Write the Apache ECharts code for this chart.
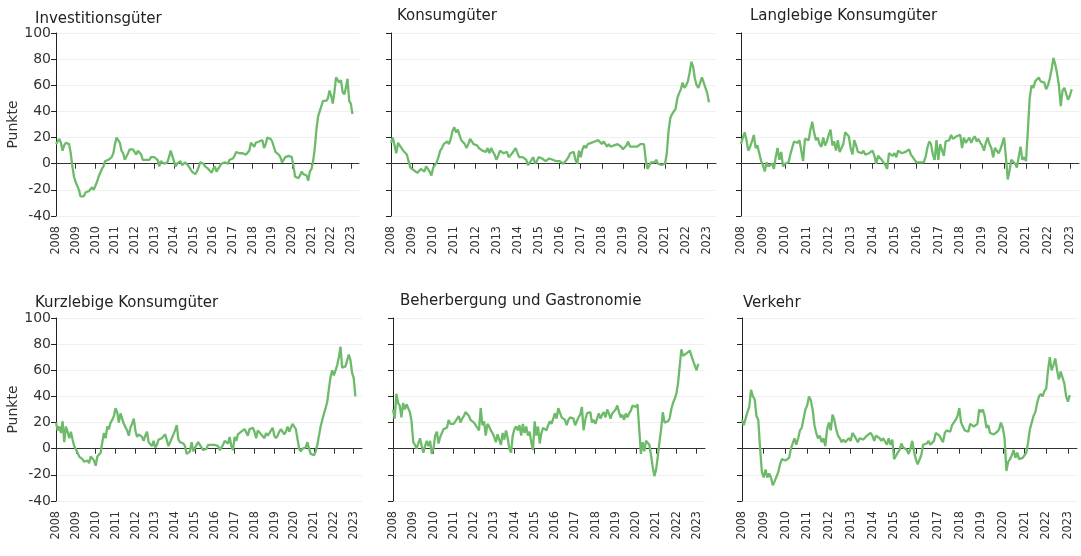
<!DOCTYPE html>
<html>
<head>
<meta charset="utf-8">
<script src="https://cdn.jsdelivr.net/npm/echarts@6/dist/echarts.min.js"></script>
<style>html,body{margin:0;padding:0;background:#fff}#c{width:1081px;height:556px}</style>
</head>
<body>
<div id="c"></div>
<script>
// Monthly categories Jan 2008 .. Jun 2023 (data ends Feb 2023)
var months = [];
for (var y = 2008; y <= 2023; y++) {
  for (var m = 1; m <= 12; m++) {
    if (y === 2023 && m > 6) break;
    months.push(y + '-' + (m < 10 ? '0' + m : m));
  }
}
var titles = ['Investitionsgüter', 'Konsumgüter', 'Langlebige Konsumgüter',
              'Kurzlebige Konsumgüter', 'Beherbergung und Gastronomie', 'Verkehr'];
var yTicks = [-40, -20, 0, 20, 40, 60, 80, 100];

var investitionsgueter = [
  15,17,19,16,10,14,16,16,15,8,-2,-10,
  -14,-15,-20,-25,-24,-25,-22,-23,-21,-21,-18,-20,
  -19,-14,-10,-9,-4,-2,2,2,3,2,5,8,
  15,20,19,16,10,8,3,4,8,11,12,11,
  11,7,10,9,7,3,2,3,4,3,5,4,
  5,6,3,-2,2,2,0,0,1,5,10,6,
  5,-2,0,-1,2,-1,0,1,2,-2,-4,-6,
  -7,-8,-6,-3,1,0,0,-2,-3,-4,-5,-7,
  -4,-2,-6,-5,-2,0,-1,1,2,0,3,4,
  4,6,9,10,8,7,8,7,7,8,10,16,
  15,13,16,15,17,16,18,12,15,20,19,19,
  17,13,9,10,7,5,1,3,5,6,6,7,
  5,-2,-10,-11,-11,-9,-6,-8,-8,-9,-13,-6,
  -4,2,12,26,36,40,41,48,48,48,50,56,
  52,46,55,66,64,62,64,55,53,58,65,48,
  46,38
];
var konsumgueter = [
  16,20,20,8,16,17,12,10,10,7,2,-3,
  -4,-5,-6,-7,-6,-4,-3,-6,-2,-4,-6,-9,
  -3,-2,1,5,10,12,15,14,17,15,19,25,
  28,24,26,22,18,19,15,12,15,19,17,15,
  14,14,12,11,10,10,9,12,8,12,9,7,
  3,6,10,9,8,8,9,5,4,8,9,12,
  8,5,5,5,4,3,-1,0,3,5,0,2,
  5,5,4,3,2,3,4,5,3,3,2,3,
  2,1,0,1,3,5,8,7,9,3,0,10,
  5,11,14,12,15,16,16,17,17,18,18,17,
  15,17,18,13,15,13,14,14,15,15,15,13,
  11,10,14,17,13,12,13,12,13,14,15,15,
  15,3,-4,-3,1,2,1,3,0,1,-1,-1,
  0,8,25,35,38,40,42,50,54,57,62,58,
  60,63,70,78,74,65,60,58,58,66,66,58,
  54,47
];
var langlebige = [
  15,20,24,18,10,13,17,22,12,14,8,2,
  -1,-6,1,-2,-2,0,-4,5,12,3,9,-2,
  0,1,1,7,8,17,17,16,18,19,2,19,
  20,18,26,32,24,18,20,15,13,20,14,17,
  22,26,14,17,10,18,9,12,15,24,24,21,
  12,7,18,14,9,8,8,10,7,7,8,9,
  10,6,0,6,6,3,1,-1,-4,8,8,6,
  8,5,10,9,8,9,9,9,11,7,5,4,
  1,1,1,2,1,5,12,17,15,7,3,18,
  3,15,16,6,17,18,18,22,19,20,21,22,
  22,12,20,16,18,20,16,19,21,17,19,16,
  14,10,16,20,15,12,5,12,12,8,11,12,
  20,5,-12,-5,3,2,0,-3,5,13,3,5,
  2,25,50,60,58,63,62,66,63,63,62,57,
  60,65,72,81,76,69,60,44,56,58,58,49,
  52,57
];
var kurzlebige = [
  20,14,17,12,21,5,17,13,8,13,7,2,
  2,-3,-6,-5,-8,-10,-10,-9,-11,-6,-5,-9,
  -13,-6,-5,-3,5,12,8,17,15,20,22,25,
  31,28,20,27,27,19,18,14,10,16,19,23,
  14,9,11,10,9,6,10,13,5,5,2,6,
  1,3,7,7,8,8,11,10,2,5,8,11,
  14,18,7,5,5,4,2,-4,-3,-2,5,-2,
  -1,3,5,3,2,-1,-1,0,3,3,3,3,
  3,4,2,-1,1,3,6,5,4,9,2,-1,
  9,6,11,12,13,14,15,15,10,15,16,16,
  13,8,14,14,11,12,8,12,10,12,14,16,
  10,8,10,13,15,15,11,13,17,13,16,19,
  17,15,14,0,-2,0,1,1,5,0,-4,-5,
  -5,-2,3,10,17,22,27,31,36,46,55,60,
  56,60,64,70,78,62,62,63,62,72,68,58,
  54,40
];
var gastronomie = [
  30,23,42,35,33,24,35,30,34,35,28,21,
  5,3,0,4,8,2,-3,2,6,2,6,-4,
  0,10,13,4,9,12,15,14,16,22,19,19,
  19,20,23,25,20,23,25,28,29,25,22,22,
  20,18,16,14,31,18,21,10,19,17,14,12,
  9,5,11,10,3,12,7,14,8,0,-3,10,
  15,17,14,18,10,19,12,17,10,13,5,-1,
  21,10,17,4,12,16,17,14,18,21,19,23,
  27,23,31,32,24,23,22,18,22,24,24,23,
  18,21,24,26,32,14,22,27,28,28,20,22,
  19,23,27,23,26,28,24,30,27,23,27,28,
  30,33,28,24,26,22,27,24,27,29,33,32,
  32,34,15,-4,5,-2,6,7,3,-5,-14,-21,
  -16,-6,5,15,28,20,20,21,23,30,35,38,
  42,50,63,76,71,72,73,74,75,76,67,66,
  60,65
];
var verkehr = [
  22,18,23,28,32,45,40,38,25,22,0,-18,
  -22,-16,-22,-19,-22,-28,-25,-24,-18,-12,-8,-8,
  -9,-9,-7,0,4,8,3,8,14,16,15,30,
  33,40,37,30,18,12,8,10,5,8,2,15,
  20,14,26,22,15,10,8,5,7,5,5,8,
  6,12,10,11,5,8,9,7,8,10,9,12,
  10,6,10,10,8,6,8,7,3,8,3,7,
  -8,-9,-3,-1,4,1,0,-1,-4,0,6,-2,
  -8,-12,-11,-5,3,3,4,6,3,4,6,12,
  12,10,10,5,12,14,13,13,18,17,22,25,
  31,20,17,14,15,13,19,18,17,18,19,30,
  28,30,25,16,18,12,12,11,12,13,15,20,
  16,8,-17,-10,-8,-5,-1,-7,-3,-8,-8,-7,
  -5,-3,5,15,20,25,28,35,40,42,40,44,
  46,60,70,60,64,69,60,53,59,58,50,40,
  36,41
];
var seriesData = [investitionsgueter, konsumgueter, langlebige, kurzlebige, gastronomie, verkehr];

// layout
var grids = [
  {left: 56,  top: 33,  width: 303, height: 183},
  {left: 391, top: 33,  width: 325, height: 183},
  {left: 741, top: 33,  width: 338, height: 183},
  {left: 56,  top: 318, width: 306, height: 183},
  {left: 393, top: 318, width: 312, height: 183},
  {left: 742, top: 318, width: 335, height: 183}
];
var titlePos = [
  {left: 30, top: 7}, {left: 392, top: 4}, {left: 745, top: 4},
  {left: 30, top: 291}, {left: 395, top: 289}, {left: 738, top: 291}
];
var FONT = 'DejaVu Sans';
var chart = echarts.init(document.getElementById('c'), null, {renderer: 'canvas'});
var option = {
  animation: false,
  backgroundColor: '#ffffff',
  title: [], grid: [], xAxis: [], yAxis: [], series: []
};
for (var i = 0; i < 6; i++) {
  var showY = (i % 3 === 0);
  option.title.push({
    text: titles[i], left: titlePos[i].left, top: titlePos[i].top,
    textStyle: {fontFamily: FONT, fontSize: 15, fontWeight: 'normal', color: '#222'}
  });
  option.grid.push(Object.assign({containLabel: false}, grids[i]));
  option.xAxis.push({
    type: 'category', gridIndex: i, data: months, boundaryGap: false,
    axisLine: {onZero: true, lineStyle: {color: '#333', width: 1}},
    axisTick: {show: true, length: 5, interval: function (idx) { return idx % 12 === 0; },
               lineStyle: {color: '#333'}},
    axisLabel: {
      interval: function (idx) { return idx % 12 === 0; },
      formatter: function (v) { return v.slice(0, 4); },
      rotate: 90, margin: 10, fontFamily: 'DejaVu Sans Condensed', fontSize: 12.5, color: '#333'
    },
    splitLine: {show: false}
  });
  option.yAxis.push({
    type: 'value', gridIndex: i, min: -40, max: 100, interval: 20,
    name: showY ? 'Punkte' : '', nameLocation: 'middle', nameGap: 35,
    nameTextStyle: {fontFamily: FONT, fontSize: 14, color: '#333'},
    axisLine: {show: true, lineStyle: {color: '#222', width: 1}},
    axisTick: {show: true, length: 5, lineStyle: {color: '#222'}},
    axisLabel: {show: showY, fontFamily: FONT, fontSize: 14, color: '#333', margin: 5},
    splitLine: {show: true, lineStyle: {color: '#efefef', width: 1}}
  });
  option.series.push({
    type: 'line', xAxisIndex: i, yAxisIndex: i, data: seriesData[i],
    showSymbol: false, symbol: 'none', smooth: false,
    lineStyle: {color: '#6dbb6a', width: 2.3}
  });
}
chart.setOption(option);
</script>
</body>
</html>
